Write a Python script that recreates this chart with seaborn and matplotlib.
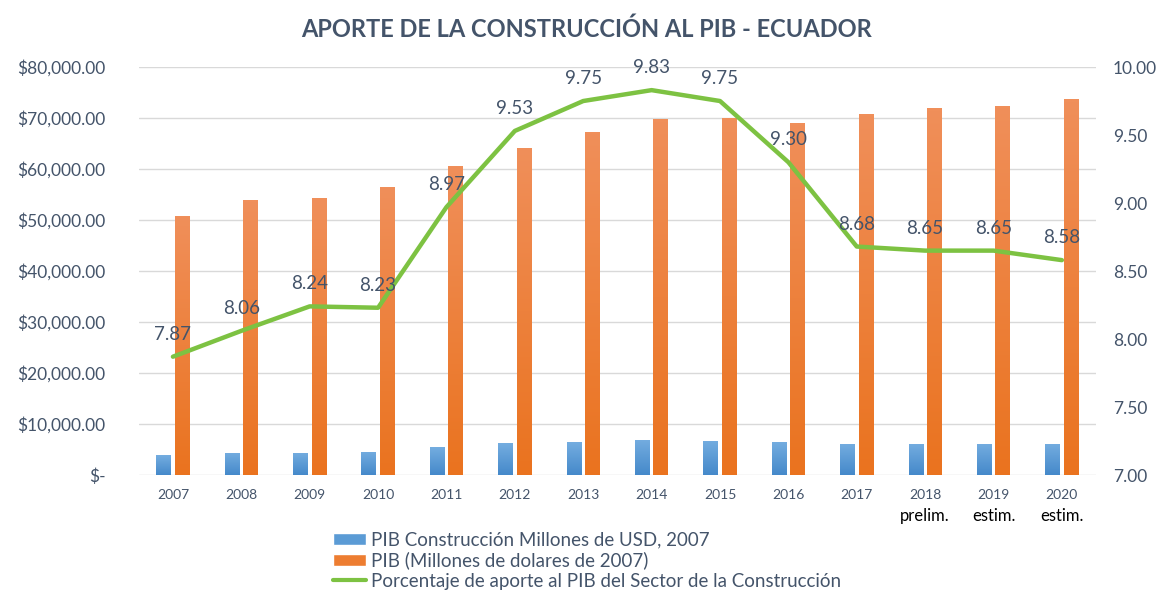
import numpy as np
import pandas as pd
import matplotlib
matplotlib.use("Agg")
import matplotlib.pyplot as plt
import matplotlib.colors as mcolors
from matplotlib.patches import Patch
from matplotlib.lines import Line2D
import seaborn as sns

# data
anios = ["2007", "2008", "2009", "2010", "2011", "2012", "2013",
         "2014", "2015", "2016", "2017", "2018", "2019", "2020"]
notas = ["", "", "", "", "", "", "", "", "", "", "", "prelim.", "estim.", "estim."]
pib_construccion = [3900, 4400, 4400, 4600, 5400, 6200, 6400,
                    6900, 6700, 6400, 6100, 6100, 6100, 6100]
pib_total = [50800, 53900, 54300, 56500, 60600, 64200, 67300,
             69800, 70100, 69100, 70800, 71900, 72400, 73700]
porcentaje = [7.87, 8.06, 8.24, 8.23, 8.97, 9.53, 9.75,
              9.83, 9.75, 9.30, 8.68, 8.65, 8.65, 8.58]

serie_a = "PIB Construcción Millones de USD, 2007"
serie_b = "PIB (Millones de dolares de 2007)"
serie_c = "Porcentaje de aporte al PIB del Sector de la Construcción"

TXT = "#44546A"
AZUL = "#5B9BD5"
NARANJA = "#ED7D31"
VERDE = "#7DC242"

sns.set_theme(style="white")
plt.rcParams["font.family"] = ["Lato", "DejaVu Sans"]

df = pd.DataFrame({
    "anio": anios * 2,
    "valor": pib_construccion + pib_total,
    "serie": [serie_a] * len(anios) + [serie_b] * len(anios),
})

fig = plt.figure(figsize=(11.61, 5.92), dpi=100)
ax1 = fig.add_axes([0.1195, 0.1976, 0.8246, 0.6892])

sns.barplot(data=df, x="anio", y="valor", hue="serie", order=anios,
            palette=[AZUL, NARANJA], width=0.54, gap=0.2, dodge=True,
            legend=False, ax=ax1, saturation=1)


def gradiente(ax, patch, arriba, abajo):
    x, y = patch.get_x(), patch.get_y()
    w, h = patch.get_width(), patch.get_height()
    c1 = np.array(mcolors.to_rgb(arriba))
    c2 = np.array(mcolors.to_rgb(abajo))
    t = np.linspace(0, 1, 64)[:, None]
    img = (c1 * (1 - t) + c2 * t)[:, None, :]
    im = ax.imshow(img, extent=[x, x + w, y, y + h], aspect="auto",
                   origin="upper", zorder=patch.get_zorder(), interpolation="bilinear")
    im.set_clip_path(patch)
    patch.set_facecolor("none")
    patch.set_edgecolor("none")


n = len(anios)
for i, p in enumerate(list(ax1.patches)):
    if i < n:
        gradiente(ax1, p, "#74ADE0", "#4589CA")
    else:
        gradiente(ax1, p, "#F08F5A", "#EA731F")

ax1.set_xlim(-0.5, n - 0.5)
ax1.set_ylim(0, 80000)
ax1.set_yticks(np.arange(0, 80001, 10000))
ax1.set_yticklabels(["$-"] + [f"${v:,.2f}" for v in np.arange(10000, 80001, 10000)])
ax1.set_xlabel("")
ax1.set_ylabel("")
ax1.grid(axis="y", color="#D9D9D9", linewidth=1)
ax1.set_axisbelow(True)
for s in ax1.spines.values():
    s.set_visible(False)
ax1.tick_params(axis="y", labelsize=12.5, colors=TXT, length=0, pad=24)
ax1.tick_params(axis="x", labelsize=10, colors=TXT, length=0, pad=10)

for i, nota in enumerate(notas):
    if nota:
        ax1.text(i, -0.08, nota, transform=ax1.get_xaxis_transform(),
                 ha="center", va="top", fontsize=12, color="black")

ax2 = ax1.twinx()
sns.lineplot(x=np.arange(n), y=porcentaje, color=VERDE, linewidth=3.2, ax=ax2)
ax2.set_ylim(7.0, 10.0)
ax2.set_yticks(np.arange(7.0, 10.01, 0.5))
ax2.set_yticklabels([f"{v:.2f}" for v in np.arange(7.0, 10.01, 0.5)])
ax2.tick_params(axis="y", labelsize=12.5, colors=TXT, length=0, pad=12)
for s in ax2.spines.values():
    s.set_visible(False)
ax2.grid(False)
ax2.set_xlim(-0.5, n - 0.5)

for i, v in enumerate(porcentaje):
    ax2.annotate(f"{v:.2f}", (i, v), xytext=(0, 10), textcoords="offset points",
                 ha="center", va="bottom", fontsize=13.5, color=TXT)

fig.text(0.505, 0.951, "APORTE DE LA CONSTRUCCIÓN AL PIB - ECUADOR", ha="center",
         va="center", fontsize=17, fontweight="bold", color=TXT)

handles = [Patch(facecolor=AZUL), Patch(facecolor=NARANJA),
           Line2D([0], [0], color=VERDE, linewidth=3)]
fig.legend(handles, [serie_a, serie_b, serie_c], loc="upper left",
           bbox_to_anchor=(0.287, 0.102), frameon=False, fontsize=13.5,
           labelcolor=TXT, handlelength=1.75, handleheight=0.65,
           handletextpad=0.25, labelspacing=0.16, borderpad=0, borderaxespad=0)

fig.savefig("out.png", dpi=100)
